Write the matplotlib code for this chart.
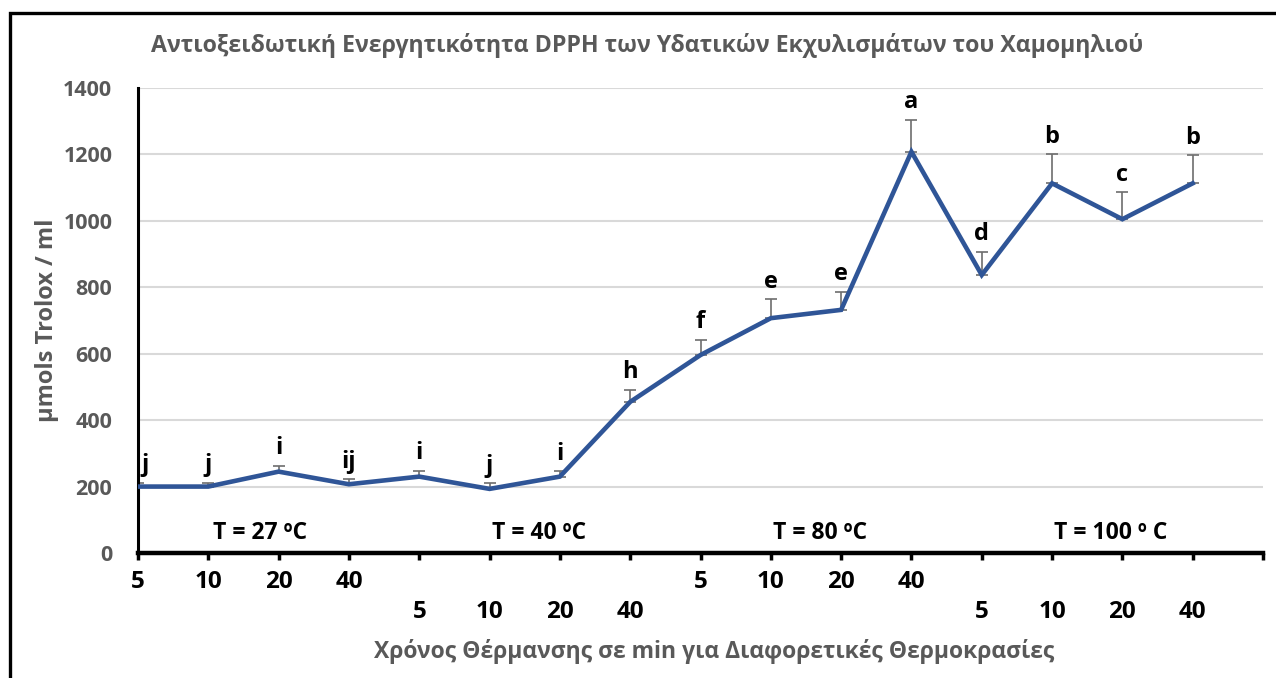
import matplotlib
matplotlib.use("Agg")
import matplotlib.pyplot as plt
from matplotlib.patches import Rectangle

plt.rcParams['font.family'] = ['Open Sans', 'DejaVu Sans']

# ---- data ----
minutes = ['5', '10', '20', '40'] * 4
values = [200, 200, 245, 207, 230, 193, 230, 455, 596, 707, 732, 1208, 837, 1113, 1005, 1113]
err_up = [12, 12, 17, 15, 17, 17, 16, 36, 46, 57, 55, 96, 70, 88, 81, 85]
letters = ['j', 'j', 'i', 'ij', 'i', 'j', 'i', 'h', 'f', 'e', 'e', 'a', 'd', 'b', 'c', 'b']
temp_labels = ['T = 27 ºC', 'T = 40 ºC', 'T = 80 ºC', 'T = 100 º C']
temp_x = [1.74, 5.70, 9.70, 13.83]
temp_y = 60
yticks = [0, 200, 400, 600, 800, 1000, 1200, 1400]

title = 'Αντιοξειδωτική Ενεργητικότητα DPPH των Υδατικών Εκχυλισμάτων του Χαμομηλιού'
xlabel = 'Χρόνος Θέρμανσης σε min για Διαφορετικές Θερμοκρασίες'
ylabel = 'μmols Trolox / ml'

W, H = 1276, 678
fig = plt.figure(figsize=(W / 100, H / 100), dpi=100)
ax = fig.add_axes([138 / W, 1 - 553 / H, (1263 - 138) / W, (553 - 88) / H])

x = list(range(len(values)))
line_color = '#2F5597'
gray = '#595959'

ax.plot(x, values, color=line_color, lw=3.3, zorder=3, solid_joinstyle='miter')
ax.errorbar(x, values, yerr=[[0] * len(values), err_up], fmt='none',
            ecolor='#6d6d6d', elinewidth=1.2, capsize=4, capthick=1.2, zorder=2)

for i in x:
    dx = 5 if i == 0 else 0
    ax.annotate(letters[i], xy=(i, values[i] + err_up[i]), xytext=(dx, 4),
                textcoords='offset points', ha='center', va='bottom',
                fontsize=17, fontweight='bold', color='black', zorder=4,
                annotation_clip=False)

for t, tx in zip(temp_labels, temp_x):
    ax.text(tx, temp_y, t, ha='center', va='center', fontsize=16.5,
            fontweight='bold', color='black')

ax.set_xlim(0, 16)
ax.set_ylim(0, 1400)
ax.set_yticks(yticks)
ax.set_yticklabels([str(v) for v in yticks], fontsize=15.5, fontweight='bold', color=gray)
ax.tick_params(axis='y', length=0, pad=18.5)
ax.grid(axis='y', color='#d9d9d9', lw=1.5, zorder=0)
ax.set_axisbelow(True)

ax.set_xticks(list(range(17)))
ax.set_xticklabels(minutes + [''], fontsize=17.5, fontweight='bold', color='black')
ax.tick_params(axis='x', length=5, width=2.5, direction='out', color='black')
for i, tick in enumerate(ax.xaxis.get_major_ticks()):
    group = i // 4
    tick.set_pad(7 if group in (0, 2) else 29)

for s in ('top', 'right'):
    ax.spines[s].set_visible(False)
ax.spines['left'].set_linewidth(2.2)
ax.spines['bottom'].set_linewidth(3.2)
ax.spines['left'].set_color('black')
ax.spines['bottom'].set_color('black')

fig.text(647 / W, 1 - 45 / H, title, ha='center', va='center', fontsize=16.7,
         fontweight='bold', color=gray)
fig.text(714 / W, 1 - 651 / H, xlabel, ha='center', va='center', fontsize=16.5,
         fontweight='bold', color=gray)
fig.text(47 / W, 1 - 320 / H, ylabel, ha='center', va='center', rotation=90,
         fontsize=17, fontweight='bold', color=gray)

fig.patches.append(Rectangle((9.5 / W, -0.2), 1.2, 1.2 - 12.5 / H,
                             transform=fig.transFigure, fill=False,
                             edgecolor='black', lw=2.4))

fig.savefig('out.png', dpi=100)
